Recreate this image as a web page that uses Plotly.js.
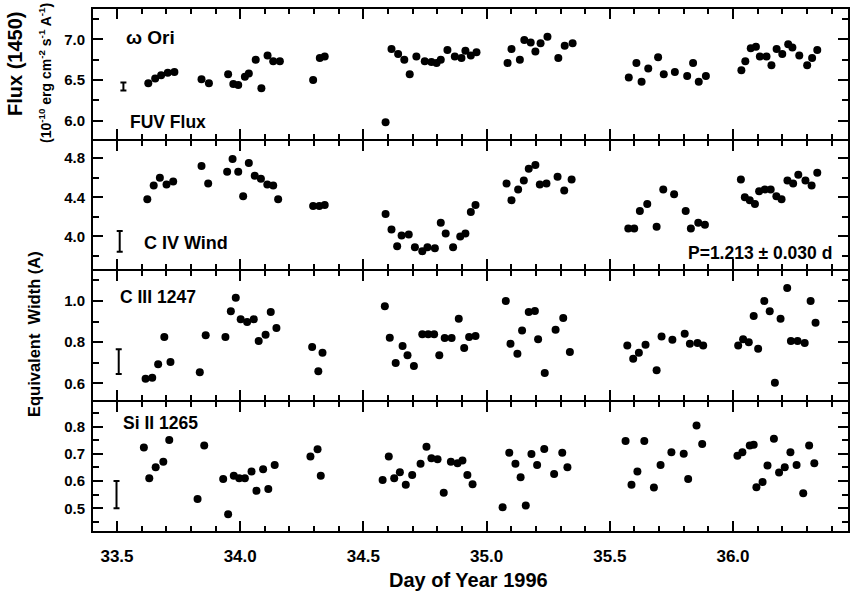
<!DOCTYPE html>
<html>
<head>
<meta charset="utf-8">
<script src="https://cdn.plot.ly/plotly-3.0.1.min.js"></script>
<style>html,body{margin:0;padding:0;background:#fff;}#chart{width:854px;height:591px;}</style>
</head>
<body>
<div id="chart"></div>
<script>
// ---- Data (day of year 1996) ----
const fuvDay = [33.627,33.655,33.679,33.706,33.733,
  33.843,33.873,33.951,33.972,33.992,34.019,34.035,34.063,34.086,34.111,34.134,34.161,
  34.296,34.323,34.343,
  34.590,34.614,34.641,34.666,34.688,34.715,34.749,34.776,34.797,34.814,34.841,34.871,34.898,34.914,34.936,34.959,
  35.085,35.101,35.135,35.153,35.179,35.198,35.219,35.247,35.291,35.317,35.349,
  35.577,35.608,35.629,35.656,35.696,35.719,35.764,35.814,35.838,35.861,35.890,
  36.034,36.050,36.072,36.093,36.109,36.136,36.156,36.177,36.200,36.224,36.241,36.269,36.301,36.321,36.342];
const fuvFlux = [6.46,6.52,6.56,6.59,6.60,
  6.51,6.46,6.57,6.45,6.44,6.54,6.58,6.75,6.40,6.80,6.73,6.73,
  6.50,6.77,6.79,
  5.98,6.88,6.82,6.75,6.57,6.79,6.73,6.72,6.71,6.75,6.87,6.79,6.77,6.86,6.80,6.84,
  6.71,6.88,6.75,6.99,6.96,6.85,6.95,7.03,6.77,6.92,6.95,
  6.53,6.71,6.48,6.64,6.78,6.57,6.60,6.55,6.71,6.48,6.55,
  6.62,6.73,6.89,6.91,6.79,6.79,6.68,6.88,6.82,6.94,6.90,6.80,6.68,6.77,6.87];

const civDay = [33.623,33.649,33.674,33.701,33.728,
  33.843,33.870,33.947,33.969,33.992,34.012,34.035,34.059,34.084,34.110,34.134,34.154,
  34.296,34.321,34.343,
  34.590,34.614,34.637,34.655,34.684,34.709,34.739,34.760,34.790,34.814,34.834,34.864,34.893,34.914,34.936,34.955,
  35.081,35.101,35.128,35.151,35.171,35.198,35.216,35.243,35.288,35.315,35.345,
  35.575,35.599,35.622,35.652,35.690,35.717,35.761,35.808,35.829,35.859,35.886,
  36.032,36.048,36.068,36.089,36.106,36.129,36.153,36.176,36.197,36.221,36.244,36.265,36.294,36.319,36.342];
const civEW = [4.38,4.52,4.60,4.53,4.56,
  4.72,4.54,4.66,4.79,4.66,4.41,4.75,4.62,4.59,4.53,4.52,4.38,
  4.31,4.31,4.32,
  4.23,4.07,3.90,4.01,4.02,3.89,3.85,3.89,3.88,4.14,4.03,3.89,4.00,4.03,4.25,4.32,
  4.54,4.37,4.48,4.57,4.69,4.73,4.53,4.54,4.61,4.47,4.58,
  4.08,4.08,4.26,4.33,4.10,4.48,4.43,4.26,4.08,4.14,4.12,
  4.58,4.40,4.37,4.33,4.46,4.48,4.48,4.41,4.38,4.57,4.54,4.63,4.57,4.52,4.65];

const ciiiDay = [33.616,33.643,33.667,33.692,33.717,
  33.836,33.860,33.940,33.962,33.982,34.002,34.028,34.055,34.075,34.103,34.124,34.147,
  34.292,34.317,34.334,
  34.587,34.607,34.631,34.659,34.679,34.705,34.739,34.763,34.787,34.808,34.830,34.858,34.887,34.909,34.929,34.955,
  35.078,35.097,35.125,35.144,35.171,35.196,35.209,35.236,35.280,35.311,35.338,
  35.571,35.595,35.618,35.645,35.690,35.710,35.754,35.804,35.825,35.856,35.879,
  36.021,36.041,36.064,36.084,36.102,36.127,36.149,36.170,36.193,36.220,36.235,36.262,36.291,36.315,36.335];
const ciiiEW = [0.622,0.627,0.692,0.825,0.703,
  0.654,0.833,0.825,0.950,1.016,0.911,0.898,0.911,0.805,0.836,0.946,0.869,
  0.776,0.659,0.748,
  0.974,0.821,0.698,0.781,0.736,0.684,0.838,0.838,0.838,0.736,0.820,0.820,0.914,0.771,0.825,0.830,
  1.000,0.792,0.744,0.857,0.946,0.951,0.814,0.650,0.860,0.917,0.752,
  0.784,0.719,0.748,0.787,0.663,0.828,0.812,0.841,0.792,0.796,0.784,
  0.784,0.814,0.800,0.927,0.768,1.000,0.950,0.603,0.914,1.063,0.805,0.805,0.796,1.000,0.894];

const siiiDay = [33.609,33.631,33.657,33.688,33.712,
  33.827,33.854,33.931,33.951,33.974,33.996,34.019,34.046,34.066,34.093,34.114,34.140,
  34.285,34.314,34.327,
  34.578,34.603,34.625,34.648,34.672,34.698,34.732,34.756,34.776,34.801,34.826,34.855,34.882,34.902,34.922,34.943,
  35.065,35.092,35.117,35.138,35.159,35.182,35.205,35.234,35.274,35.307,35.328,
  35.564,35.588,35.612,35.640,35.679,35.706,35.750,35.800,35.818,35.852,35.875,
  36.018,36.038,36.068,36.084,36.095,36.120,36.140,36.166,36.187,36.210,36.233,36.258,36.285,36.309,36.330];
const siiiEW = [0.723,0.610,0.651,0.671,0.751,
  0.534,0.730,0.607,0.478,0.619,0.610,0.610,0.635,0.564,0.643,0.571,0.659,
  0.690,0.717,0.619,
  0.604,0.690,0.610,0.632,0.586,0.622,0.663,0.726,0.684,0.680,0.557,0.671,0.665,0.675,0.622,0.588,
  0.504,0.704,0.663,0.614,0.510,0.699,0.659,0.718,0.626,0.704,0.651,
  0.747,0.586,0.635,0.747,0.576,0.659,0.706,0.700,0.607,0.804,0.736,
  0.693,0.706,0.730,0.733,0.577,0.596,0.657,0.755,0.631,0.651,0.706,0.659,0.555,0.730,0.665];

// typical error bars (one per panel)
const errDay  = [33.526, 33.511, 33.507, 33.498];
const errVal  = [6.42, 3.95, 0.705, 0.55];
const errHalf = [0.05, 0.105, 0.06, 0.05];

const panelLabels = ['ω Ori', 'FUV Flux', 'C IV Wind', 'P=1.213 ± 0.030 d', 'C III 1247', 'Si II 1265'];

// ---- Plot ----
const FONT = 'Liberation Sans, Arial, Helvetica, sans-serif';
const series = [[fuvDay, fuvFlux], [civDay, civEW], [ciiiDay, ciiiEW], [siiiDay, siiiEW]];
const traces = [];
series.forEach((s, i) => {
  const n = i === 0 ? '' : String(i + 1);
  traces.push({
    x: s[0], y: s[1], type: 'scatter', mode: 'markers',
    xaxis: 'x' + n, yaxis: 'y' + n,
    marker: {color: '#000', size: 8, line: {width: 0}},
    hoverinfo: 'x+y', showlegend: false
  });
  traces.push({
    x: [errDay[i]], y: [errVal[i]], type: 'scatter', mode: 'markers',
    xaxis: 'x' + n, yaxis: 'y' + n,
    marker: {color: 'rgba(0,0,0,0)', size: 1},
    error_y: {type: 'data', array: [errHalf[i]], visible: true, color: '#000', thickness: 2, width: 3},
    hoverinfo: 'skip', showlegend: false
  });
});

const xRange = [33.4026, 36.4667];
const W = 854, H = 591, L = 93, R = 6, T = 9, B = 60;
const pw = W - L - R, ph = H - T - B;
const g = 1 / ph; // half of the 2px line, so adjacent frame lines coincide
const domains = [[0.75 + g, 1], [0.5 + g, 0.75 - g], [0.25 + g, 0.5 - g], [0, 0.25 - g]];
const yRanges = [[5.782, 7.372], [3.668, 4.979], [0.521, 1.146], [0.4165, 0.892]];
const yDtick = [0.5, 0.4, 0.2, 0.1];
const yMinor = [0.25, 0.2, 0.1, 0.05];

const layout = {
  width: W, height: H,
  margin: {l: L, r: R, t: T, b: B, pad: 0},
  paper_bgcolor: '#fff', plot_bgcolor: '#fff',
  showlegend: false,
  font: {family: FONT, color: '#000'},
  annotations: []
};

for (let i = 0; i < 4; i++) {
  const n = i === 0 ? '' : String(i + 1);
  layout['xaxis' + n] = {
    domain: [0, 1], anchor: 'y' + n, range: xRange,
    showgrid: false, zeroline: false,
    showline: true, linecolor: '#000', linewidth: 2, mirror: 'ticks',
    ticks: 'inside', tickcolor: '#000', tickwidth: 2, ticklen: 10,
    tick0: 0, dtick: 0.5, tickformat: '.1f',
    minor: {ticks: 'inside', dtick: 0.1, ticklen: 5, tickwidth: 2, tickcolor: '#000', showgrid: false},
    showticklabels: i === 3,
    ticklabelstandoff: 9,
    tickfont: {family: FONT, size: 17, weight: 'bold', color: '#000'}
  };
  if (i > 0) layout['xaxis' + n].matches = 'x';
  layout['yaxis' + n] = {
    domain: domains[i], anchor: 'x' + n, range: yRanges[i],
    showgrid: false, zeroline: false,
    showline: true, linecolor: '#000', linewidth: 2, mirror: 'ticks',
    ticks: 'inside', tickcolor: '#000', tickwidth: 2, ticklen: 10,
    tick0: 0, dtick: yDtick[i], tickformat: '.1f',
    minor: {ticks: 'inside', dtick: yMinor[i], ticklen: 6, tickwidth: 2, tickcolor: '#000', showgrid: false},
    ticklabelstandoff: 3,
    tickfont: {family: FONT, size: 15, weight: 'bold', color: '#000'}
  };
}

function ann(text, xref, yref, x, y, xanchor, size, extra) {
  return Object.assign({
    text: '<b>' + text + '</b>', xref: xref, yref: yref, x: x, y: y,
    xanchor: xanchor, yanchor: 'middle', showarrow: false,
    font: {family: FONT, size: size, color: '#000'}
  }, extra || {});
}
const A = layout.annotations;
A.push(ann(panelLabels[0], 'x', 'y', 33.530, 7.016, 'left', 19));
A.push(ann(panelLabels[1], 'x', 'y', 33.545, 5.984, 'left', 17.5));
A.push(ann(panelLabels[2], 'x2', 'y2', 33.601, 3.933, 'left', 18));
A.push(ann(panelLabels[3], 'x2', 'y2', 36.411, 3.832, 'right', 17.5));
A.push(ann(panelLabels[4], 'x3', 'y3', 33.504, 1.019, 'left', 17.5));
A.push(ann(panelLabels[5], 'x4', 'y4', 33.516, 0.814, 'left', 17.5));

const px = v => (v - L) / pw, py = v => (H - B - v) / ph;
A.push(ann('Flux (1450)', 'paper', 'paper', px(15), py(64), 'center', 20, {textangle: -90}));
A.push(ann('(10<sup>-10</sup> erg cm<sup>-2</sup> s<sup>-1</sup> A<sup>-1</sup>)', 'paper', 'paper', px(45), py(73), 'center', 14, {textangle: -90}));
A.push(ann('Equivalent  Width (A)', 'paper', 'paper', px(34), py(334), 'center', 16.5, {textangle: -90}));
A.push(ann('Day of Year 1996', 'paper', 'paper', px(468), py(580), 'center', 20));

Plotly.newPlot('chart', traces, layout, {displayModeBar: false, staticPlot: true});
</script>
</body>
</html>
